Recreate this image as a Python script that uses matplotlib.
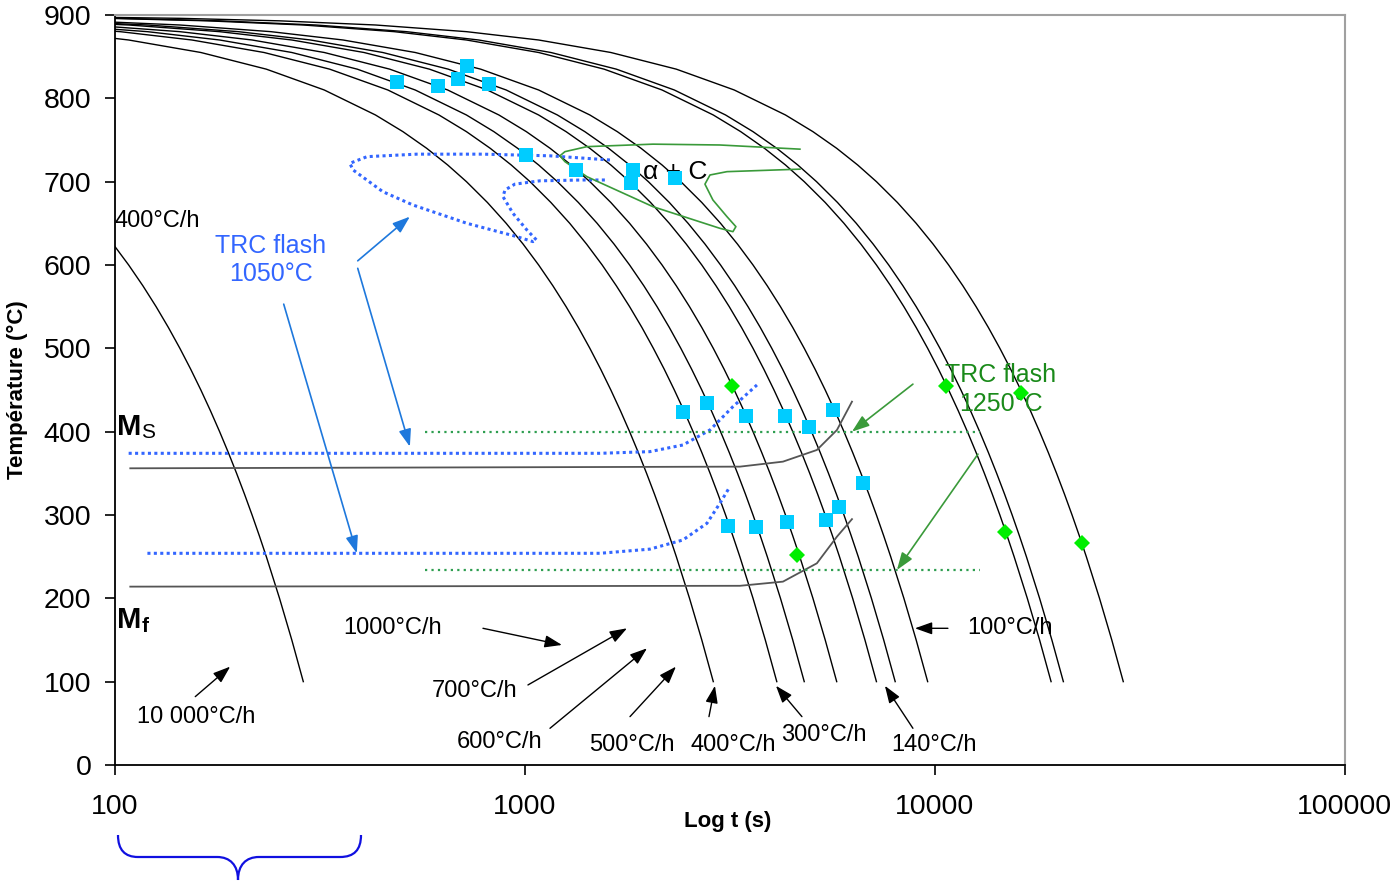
import matplotlib.pyplot as plt
import matplotlib.ticker as mticker
from matplotlib.path import Path
from matplotlib.patches import PathPatch

plt.rcParams['font.family'] = ['Liberation Sans', 'DejaVu Sans']

# Cooling curves: shared temperature levels (°C); each curve lists the time (s)
# at which it reaches the last len(times) levels.
temps = [899, 898, 896, 893, 888, 880, 870, 855, 835, 810, 780, 760, 740, 720,
         700, 675, 650, 625, 600, 575, 550, 525, 500, 475, 450, 425, 400, 375,
         350, 325, 300, 275, 250, 200, 150, 100]
t_10000 = [90, 99, 108, 117, 126, 135, 144, 153, 162, 171, 180, 189, 198, 207,
           216, 225, 234, 252, 270, 288]
t_1000 = [72, 108, 162, 234, 324, 432, 504, 576, 648, 720, 810, 900, 990, 1080,
          1170, 1260, 1350, 1440, 1530, 1620, 1710, 1800, 1890, 1980, 2070, 2160,
          2250, 2340, 2520, 2700, 2880]
t_700 = [62, 103, 154, 231, 334, 463, 617, 720, 823, 926, 1029, 1157, 1286, 1414,
         1543, 1671, 1800, 1929, 2057, 2186, 2314, 2443, 2571, 2700, 2829, 2957,
         3086, 3214, 3343, 3600, 3857, 4114]
t_600 = [72, 120, 180, 270, 390, 540, 720, 840, 960, 1080, 1200, 1350, 1500, 1650,
         1800, 1950, 2100, 2250, 2400, 2550, 2700, 2850, 3000, 3150, 3300, 3450,
         3600, 3750, 3900, 4200, 4500, 4800]
t_500 = [86, 144, 216, 324, 468, 648, 864, 1008, 1152, 1296, 1440, 1620, 1800,
         1980, 2160, 2340, 2520, 2700, 2880, 3060, 3240, 3420, 3600, 3780, 3960,
         4140, 4320, 4500, 4680, 5040, 5400, 5760]
t_400 = [63, 108, 180, 270, 405, 585, 810, 1080, 1260, 1440, 1620, 1800, 2025,
         2250, 2475, 2700, 2925, 3150, 3375, 3600, 3825, 4050, 4275, 4500, 4725,
         4950, 5175, 5400, 5625, 5850, 6300, 6750, 7200]
t_360 = [70, 120, 200, 300, 450, 650, 900, 1200, 1400, 1600, 1800, 2000, 2250,
         2500, 2750, 3000, 3250, 3500, 3750, 4000, 4250, 4500, 4750, 5000, 5250,
         5500, 5750, 6000, 6250, 6500, 7000, 7500, 8000]
t_300 = [84, 144, 240, 360, 540, 780, 1080, 1440, 1680, 1920, 2160, 2400, 2700,
         3000, 3300, 3600, 3900, 4200, 4500, 4800, 5100, 5400, 5700, 6000, 6300,
         6600, 6900, 7200, 7500, 7800, 8400, 9000, 9600]
t_150 = [96, 168, 288, 480, 720, 1080, 1560, 2160, 2880, 3360, 3840, 4320, 4800,
         5400, 6000, 6600, 7200, 7800, 8400, 9000, 9600, 10200, 10800, 11400,
         12000, 12600, 13200, 13800, 14400, 15000, 15600, 16800, 18000, 19200]
t_140 = [51, 103, 180, 309, 514, 771, 1157, 1671, 2314, 3086, 3600, 4114, 4629,
         5143, 5786, 6429, 7071, 7714, 8357, 9000, 9643, 10286, 10929, 11571,
         12214, 12857, 13500, 14143, 14786, 15429, 16071, 16714, 18000, 19286, 20571]
t_100 = [72, 144, 252, 432, 720, 1080, 1620, 2340, 3240, 4320, 5040, 5760, 6480,
         7200, 8100, 9000, 9900, 10800, 11700, 12600, 13500, 14400, 15300, 16200,
         17100, 18000, 18900, 19800, 20700, 21600, 22500, 23400, 25200, 27000, 28800]
cooling_times = [t_10000, t_1000, t_700, t_600, t_500, t_400, t_360, t_300,
                 t_150, t_140, t_100]

# Measured transformation points
square_t = [487, 613, 686, 722, 817, 1006, 1331, 1834, 1813, 2322,
            2429, 2779, 3459, 4307, 4927, 5640, 6674, 5833, 5423, 4355, 3660, 3127]
square_T = [820, 815, 823, 839, 817, 732, 714, 714, 698, 704,
            424, 434, 419, 419, 406, 426, 338, 310, 294, 292, 286, 287]
diamond_t = [3198, 4607, 10637, 16215, 14816, 22830]
diamond_T = [455, 252, 455, 446, 280, 266]

# Martensite start / finish (reference)
ms_t = [109, 3345, 4259, 5153, 5768, 6276]
ms_T = [356, 358, 364, 378, 402, 436]
mf_t = [109, 3345, 4259, 5153, 5768, 6276]
mf_T = [214, 215, 220, 242, 274, 295]

# TRC flash 1050 °C
flash1050_ms_t = [108, 1524, 2017, 2429, 2827, 3216, 3680]
flash1050_ms_T = [374, 374, 376, 384, 402, 430, 456]
flash1050_mf_t = [120, 1524, 2017, 2429, 2779, 2989, 3162]
flash1050_mf_T = [254, 254, 259, 270, 290, 314, 334]
flash1050_nose_t = [1612, 1151, 790, 545, 412, 374, 381, 450, 533, 722, 956, 1046,
                    1067, 1011, 935, 884, 894, 945, 1088, 1385, 1585]
flash1050_nose_T = [726, 731, 733, 733, 730, 722, 714, 688, 672, 650, 634, 628,
                    630, 642, 662, 682, 690, 697, 701, 702, 702]

# TRC flash 1250 °C
flash1250_t = [570, 12878]
flash1250_ms_T = [400, 400]
flash1250_mf_T = [234, 234]
flash1250_nose_t = [4685, 2989, 2052, 1416, 1252, 1217, 1252, 1416, 2052, 2989,
                    3216, 3270, 3110, 2874, 2748, 2827, 3110, 4685]
flash1250_nose_T = [739, 744, 745, 742, 736, 731, 724, 706, 670, 644,
                    640, 646, 658, 678, 697, 708, 712, 715]

# Rate labels: text, anchor (t, T), arrow tail, arrow head
rate_labels = ['10 000°C/h', '1000°C/h', '700°C/h', '600°C/h', '500°C/h',
               '400°C/h', '300°C/h', '140°C/h', '100°C/h']
rate_label_pos = [(113, 58), (360, 164), (593, 89), (683, 28), (1433, 24),
                  (2541, 24), (4211, 36), (7812, 24), (11967, 164)]
rate_arrow_tail = [(157, 82), (790, 164), (1017, 96), (1151, 44), (1804, 58),
                   (2811, 58), (4738, 58), (8837, 44), (10757, 164)]
rate_arrow_head = [(191, 118), (1231, 144), (1774, 164), (1985, 140), (2335, 118),
                   (2907, 95), (4095, 95), (7551, 95), (8937, 164)]

fig = plt.figure(figsize=(13.95, 8.82), dpi=100)
ax = fig.add_axes([0.0824, 0.1327, 0.8817, 0.8503])
ax.set_xscale('log')

for times in cooling_times:
    ax.plot(times, temps[-len(times):], color='black', lw=1.0)

ax.plot(ms_t, ms_T, color='#555555', lw=1.3)
ax.plot(mf_t, mf_T, color='#555555', lw=1.3)

blue_dot = dict(color='#3366FF', lw=2.2, linestyle=(0, (1, 1.1)))
ax.plot(flash1050_ms_t, flash1050_ms_T, **blue_dot)
ax.plot(flash1050_mf_t, flash1050_mf_T, **blue_dot)
ax.plot(flash1050_nose_t, flash1050_nose_T, **blue_dot)

green_dot = dict(color='#2E9E50', lw=1.6, linestyle=(0, (1, 1.9)))
ax.plot(flash1250_t, flash1250_ms_T, **green_dot)
ax.plot(flash1250_t, flash1250_mf_T, **green_dot)
ax.plot(flash1250_nose_t, flash1250_nose_T, color='#3A9A3A', lw=1.2)

ax.plot(square_t, square_T, 's', color='#00CCFF', ms=9.5, mew=0, zorder=5)
ax.plot(diamond_t, diamond_T, 'D', color='#00EE00', ms=8, mew=0, zorder=5)

arrow_style = '-|>,head_length=0.7,head_width=0.25'

# Rate labels with arrows
for label, pos, tail, head in zip(rate_labels, rate_label_pos, rate_arrow_tail, rate_arrow_head):
    ax.text(pos[0], pos[1], label, fontsize=17, ha='left', va='center')
    ax.annotate('', xy=head, xytext=tail,
                arrowprops=dict(arrowstyle=arrow_style, color='black', lw=1.0,
                                mutation_scale=15, shrinkA=0, shrinkB=0))
ax.text(100, 653, '400°C/h', fontsize=17, ha='left', va='center')

# TRC flash 1050 °C annotation
ax.text(240, 606, 'TRC flash\n1050°C', fontsize=18, color='#3366FF',
        ha='center', va='center', linespacing=1.25)
for tail, head in [((391, 605), (524, 658)), ((391, 596), (524, 382)),
                   ((258, 553), (389, 254))]:
    ax.annotate('', xy=head, xytext=tail,
                arrowprops=dict(arrowstyle=arrow_style, color='#1E78DC', lw=1.2,
                                mutation_scale=15, shrinkA=0, shrinkB=0))

# TRC flash 1250 °C annotation
ax.text(14488, 451, 'TRC flash\n1250°C', fontsize=18, color='#1A8A1A',
        ha='center', va='center', linespacing=1.25)
for tail, head in [((8837, 457), (6276, 400)), ((12733, 373), (8079, 234))]:
    ax.annotate('', xy=head, xytext=tail,
                arrowprops=dict(arrowstyle=arrow_style, color='#3A9A3A', lw=1.2,
                                mutation_scale=15, shrinkA=0, shrinkB=0))

ax.text(1940, 712, 'α + C', fontsize=19, ha='left', va='center')
ax.text(101, 406, 'M', fontsize=21, fontweight='bold', ha='left', va='center')
ax.text(116, 399, 'S', fontsize=15, ha='left', va='center')
ax.text(101, 174, 'M', fontsize=21, fontweight='bold', ha='left', va='center')
ax.text(116, 166, 'f', fontsize=15, fontweight='bold', ha='left', va='center')

ax.set_xlim(100, 100000)
ax.set_ylim(0, 900)
ax.xaxis.set_major_locator(mticker.FixedLocator([100, 1000, 10000, 100000]))
ax.xaxis.set_major_formatter(mticker.FuncFormatter(lambda v, _: f'{v:.0f}'))
ax.xaxis.set_minor_locator(mticker.NullLocator())
ax.set_yticks(range(0, 901, 100))
ax.tick_params(axis='both', direction='out', length=7, width=1.2, labelsize=20.5)
ax.tick_params(axis='x', pad=14)
ax.tick_params(axis='y', pad=10)

for side in ['left', 'bottom']:
    ax.spines[side].set_color('black')
    ax.spines[side].set_linewidth(1.3)
for side in ['top', 'right']:
    ax.spines[side].set_color('#A0A0A0')
    ax.spines[side].set_linewidth(1.5)

ax.set_xlabel('Log t (s)', fontsize=16, fontweight='bold', va='center')
ax.set_ylabel('Température (°C)', fontsize=16, fontweight='bold', va='center')
ax.xaxis.set_label_coords(0.4984, -0.076)
ax.yaxis.set_label_coords(-0.0795, 0.5)

# Curly brace under the first part of the time axis
W, H = 1395, 882
brace_px = [(118, 835), (118, 850), (125, 857), (138, 857), (217, 857),
            (230, 857), (238, 865), (238, 880), (238, 865), (246, 857),
            (259, 857), (340, 857), (354, 857), (361, 850), (361, 835)]
codes = [Path.MOVETO, Path.CURVE4, Path.CURVE4, Path.CURVE4, Path.LINETO,
         Path.CURVE4, Path.CURVE4, Path.CURVE4, Path.CURVE4, Path.CURVE4,
         Path.CURVE4, Path.LINETO, Path.CURVE4, Path.CURVE4, Path.CURVE4]
brace = Path([(x / W, 1 - y / H) for x, y in brace_px], codes)
fig.patches.append(PathPatch(brace, transform=fig.transFigure, fill=False,
                             edgecolor='#1010E0', lw=1.6))

fig.savefig('out.png', dpi=100)
